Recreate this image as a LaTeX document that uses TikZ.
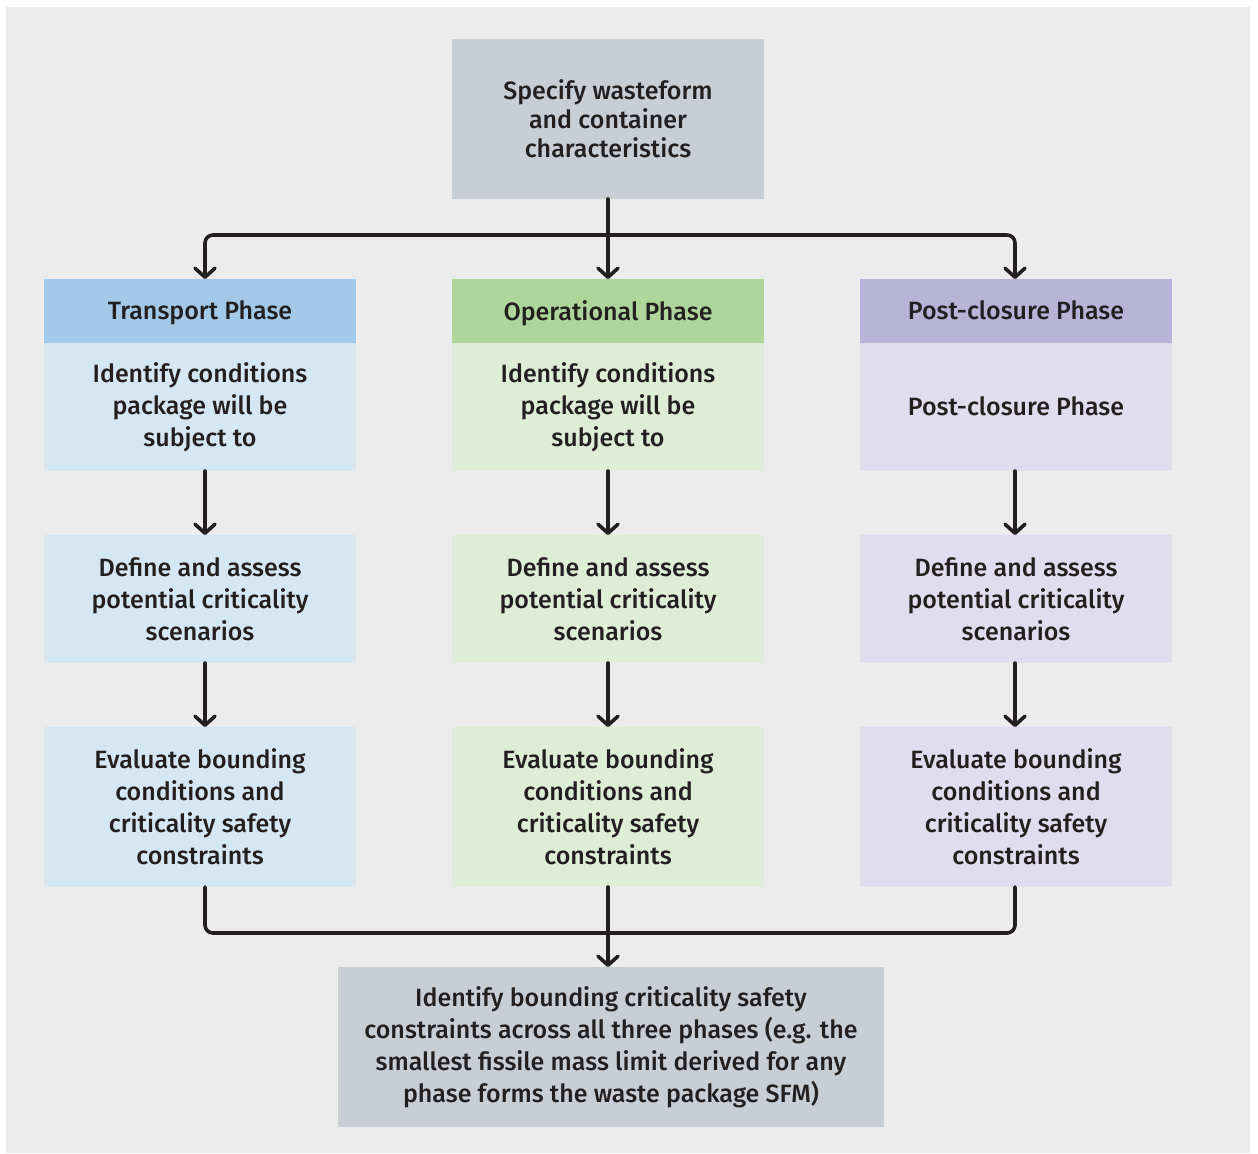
\documentclass[tikz,border=0pt]{standalone}
\usepackage{fontspec}
\setmainfont{Fira Sans}[UprightFont={* Medium}]
\usetikzlibrary{arrows.meta}
\definecolor{bggray}{HTML}{ECECEC}
\definecolor{boxgray}{HTML}{C9CED6}
\definecolor{bluehead}{HTML}{A3C9E8}
\definecolor{bluebody}{HTML}{D6E7F4}
\definecolor{greenhead}{HTML}{AED69B}
\definecolor{greenbody}{HTML}{DEEDD5}
\definecolor{purplehead}{HTML}{B7B4D7}
\definecolor{purplebody}{HTML}{DFDDEE}
\definecolor{ink}{HTML}{231F20}
\newcommand{\oneline}[1]{\vphantom{Pp}#1}
\begin{document}
\begin{tikzpicture}[x=0.5pt,y=-0.5pt,
  every node/.style={text=ink,font=\fontsize{12.5}{16}\selectfont,align=center,inner sep=0pt,outer sep=0pt},
  box/.style={rectangle,minimum width=156pt},
  head/.style={box,minimum height=32pt},
  body/.style={box,minimum height=64pt},
  tall/.style={box,minimum height=80pt},
  lowtext/.style={text depth=0pt,yshift=-1pt},
  conn/.style={draw=ink,line width=1.8pt,line cap=round,line join=round,rounded corners=4pt},
  arr/.style={conn,-{Straight Barb[length=4.5pt,width=10pt,line cap=round,line join=round]}}
]
% page and background panel
\useasboundingbox (0,0) rectangle (1258,1153);
\fill[white] (0,0) rectangle (1258,1153);
\fill[bggray] (6,7) rectangle (1250,1153);

% top box
\node[tall,fill=boxgray,font=\fontsize{12.5}{14.5}\selectfont] (top) at (608,119) {Specify wasteform\\and container\\characteristics};

% phase header bars
\fill[bluehead] (44,279) rectangle (356,343);
\fill[greenhead] (452,279) rectangle (764,343);
\fill[purplehead] (860,279) rectangle (1172,343);
\node[head] (h1) at (200,313) {\oneline{Transport Phase}};
\node[head] (h2) at (608,313) {\oneline{Operational Phase}};
\node[head] (h3) at (1016,313) {\oneline{Post-closure Phase}};

% transport column
\node[body,fill=bluebody] (a1) at (200,407) {Identify conditions\\package will be\\subject to};
\node[body,fill=bluebody] (b1) at (200,599) {Define and assess\\potential criticality\\scenarios};
\node[tall,fill=bluebody] (c1) at (200,807) {Evaluate bounding\\conditions and\\criticality safety\\constraints};

% operational column
\node[body,fill=greenbody] (a2) at (608,407) {Identify conditions\\package will be\\subject to};
\node[body,fill=greenbody] (b2) at (608,599) {Define and assess\\potential criticality\\scenarios};
\node[tall,fill=greenbody] (c2) at (608,807) {Evaluate bounding\\conditions and\\criticality safety\\constraints};

% post-closure column
\fill[purplebody] (860,343) rectangle (1172,471);
\node[body] (a3) at (1016,409) {\oneline{Post-closure Phase}};
\node[body,fill=purplebody] (b3) at (1016,599) {Define and assess\\potential criticality\\scenarios};
\node[tall,fill=purplebody] (c3) at (1016,807) {Evaluate bounding\\conditions and\\criticality safety\\constraints};

% bottom box
\node[tall,fill=boxgray,minimum width=273pt] (bot) at (611,1047) {Identify bounding criticality safety\\constraints across all three phases (e.g. the\\smallest fissile mass limit derived for any\\phase forms the waste package SFM)};

% connector lanes
\coordinate (xl) at (205,0);
\coordinate (xm) at (608,0);
\coordinate (xr) at (1015,0);
\coordinate (jt) at (608,235);
\coordinate (jb) at (608,933);
\coordinate (hy) at (0,279);
\coordinate (ay) at (0,471);

% split from the top box
\draw[arr] (top.south -| xm) -- (xm |- hy);
\draw[arr] (jt) -| (xl |- hy);
\draw[arr] (jt) -| (xr |- hy);

% steps within each column
\draw[arr] (a1.south -| xl) -- (b1.north -| xl);
\draw[arr] (b1.south -| xl) -- (c1.north -| xl);
\draw[arr] (a2.south -| xm) -- (b2.north -| xm);
\draw[arr] (b2.south -| xm) -- (c2.north -| xm);
\draw[arr] (xr |- ay) -- (b3.north -| xr);
\draw[arr] (b3.south -| xr) -- (c3.north -| xr);

% merge into the bottom box
\draw[conn] (c1.south -| xl) |- (jb);
\draw[conn] (c3.south -| xr) |- (jb);
\draw[arr] (c2.south -| xm) -- (bot.north -| xm);
\end{tikzpicture}
\end{document}
